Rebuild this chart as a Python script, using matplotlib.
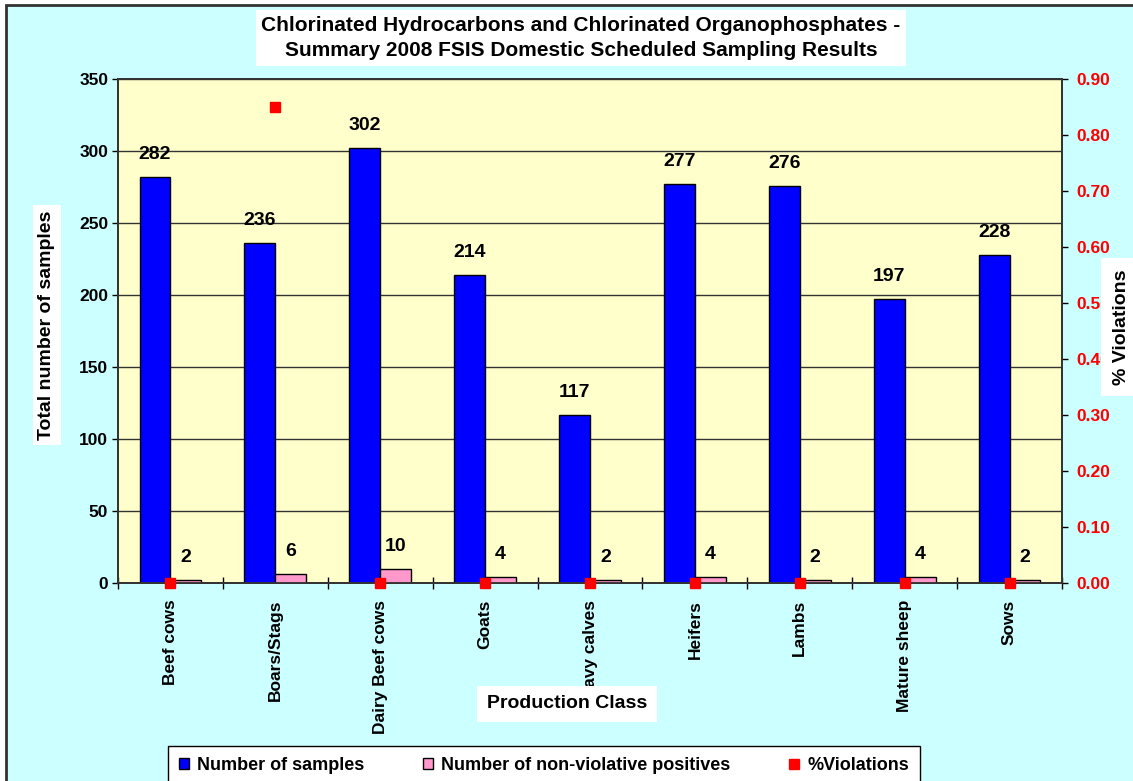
import matplotlib
matplotlib.use("Agg")
import matplotlib.pyplot as plt
import numpy as np
from matplotlib.patches import Rectangle
from matplotlib.lines import Line2D

categories = ["Beef cows", "Boars/Stags", "Dairy Beef cows", "Goats", "Heavy calves",
              "Heifers", "Lambs", "Mature sheep", "Sows"]
samples = [282, 236, 302, 214, 117, 277, 276, 197, 228]
positives = [2, 6, 10, 4, 2, 4, 2, 4, 2]
violations = [0.0, 0.85, 0.0, 0.0, 0.0, 0.0, 0.0, 0.0, 0.0]
left_ticks = [0, 50, 100, 150, 200, 250, 300, 350]
right_ticks = [0.0, 0.1, 0.2, 0.3, 0.4, 0.5, 0.6, 0.7, 0.8, 0.9]

plt.rcParams['font.family'] = ['Liberation Sans', 'DejaVu Sans']
plt.rcParams['font.weight'] = 'bold'

W, H = 1133, 781
fig = plt.figure(figsize=(W / 100, H / 100), dpi=100, facecolor='white')

def fx(x):
    return x / W

def fy(y):
    return 1 - y / H

# chart area background with border
fig.patches.append(Rectangle((fx(6), -0.02), 1.05, fy(5) + 0.02, transform=fig.transFigure,
                             facecolor='#CCFFFF', edgecolor='#333333', linewidth=2, zorder=-10))

ax = fig.add_axes([fx(118), fy(583), fx(1062) - fx(118), fy(79) - fy(583)])
ax.set_facecolor('#FFFFCC')

x = np.arange(len(categories))
w = 0.295
b1 = ax.bar(x - w / 2, samples, w, color='#0000FF', edgecolor='black', linewidth=1, zorder=3)
b2 = ax.bar(x + w / 2, positives, w, color='#FF99CC', edgecolor='black', linewidth=1, zorder=3)
ax.bar_label(b1, padding=10, fontsize=14, fontweight='bold')
ax.bar_label(b2, padding=10, fontsize=14, fontweight='bold')

ax.set_xlim(-0.5, len(categories) - 0.5)
ax.set_ylim(0, 350)
ax.set_yticks(left_ticks)
ax.set_yticklabels([str(t) for t in left_ticks], fontsize=12.5, fontweight='bold')
ax.yaxis.grid(True, color='#333333', linewidth=1)
ax.set_axisbelow(True)
ax.tick_params(axis='y', direction='out', length=4, width=1, pad=3, colors='black')

ax.set_xticks(x)
ax.set_xticklabels(categories, rotation=90, va='top', ha='center', fontsize=12.5, fontweight='bold')
ax.set_xticks(np.arange(len(categories) + 1) - 0.5, minor=True)
ax.tick_params(axis='x', which='major', length=0, pad=12)
ax.tick_params(axis='x', which='minor', direction='inout', length=8, width=1)

for s in ax.spines.values():
    s.set_color('#333333')
    s.set_linewidth(1.3)

ax2 = ax.twinx()
ax2.set_ylim(0, 0.9)
ax2.set_yticks(right_ticks)
ax2.set_yticklabels([f"{t:.2f}" for t in right_ticks], fontsize=12.5, fontweight='bold', color='#FF0000')
ax2.tick_params(axis='y', direction='out', length=4, width=1, pad=6)
ax2.plot(x, violations, linestyle='none', marker='s', markersize=7, color='#FF0000',
         markeredgecolor='#FF0000', clip_on=False, zorder=6)
for s in ax2.spines.values():
    s.set_color('#333333')
    s.set_linewidth(1.3)

# title
fig.text(fx(581), fy(38),
         "Chlorinated Hydrocarbons and Chlorinated Organophosphates -\nSummary 2008 FSIS Domestic Scheduled Sampling Results",
         ha='center', va='center', fontsize=15, fontweight='bold', linespacing=1.45,
         bbox=dict(facecolor='white', edgecolor='none', pad=4))

fig.text(fx(47), fy(325), "Total number of samples", rotation=90, ha='center', va='center',
         fontsize=14, fontweight='bold', bbox=dict(facecolor='white', edgecolor='none', pad=4))
fig.text(fx(1121), fy(327), "% Violations", rotation=90, ha='center', va='center',
         fontsize=14, fontweight='bold', bbox=dict(facecolor='white', edgecolor='none', pad=8))
fig.text(fx(567), fy(704), "Production Class", ha='center', va='center',
         fontsize=14, fontweight='bold', bbox=dict(facecolor='white', edgecolor='none', pad=7))

handles = [Rectangle((0, 0), 1, 1, facecolor='#0000FF', edgecolor='black', linewidth=1),
           Rectangle((0, 0), 1, 1, facecolor='#FF99CC', edgecolor='black', linewidth=1),
           Line2D([], [], linestyle='none', marker='s', markersize=7, color='#FF0000')]
labels = ["Number of samples", "Number of non-violative positives", "%Violations"]
leg = fig.legend(handles, labels, loc='upper left', ncol=3, mode='expand',
                 bbox_to_anchor=(fx(168), fy(746) - 0.2, fx(920) - fx(168), 0.2),
                 frameon=True, fancybox=False, edgecolor='black', facecolor='white', framealpha=1,
                 prop={'size': 13, 'weight': 'bold'}, handlelength=0.55, handleheight=0.6,
                 handletextpad=0.45, borderaxespad=0, borderpad=0.6)
leg.get_frame().set_linewidth(1)

fig.savefig("out.png", dpi=100, facecolor=fig.get_facecolor())
